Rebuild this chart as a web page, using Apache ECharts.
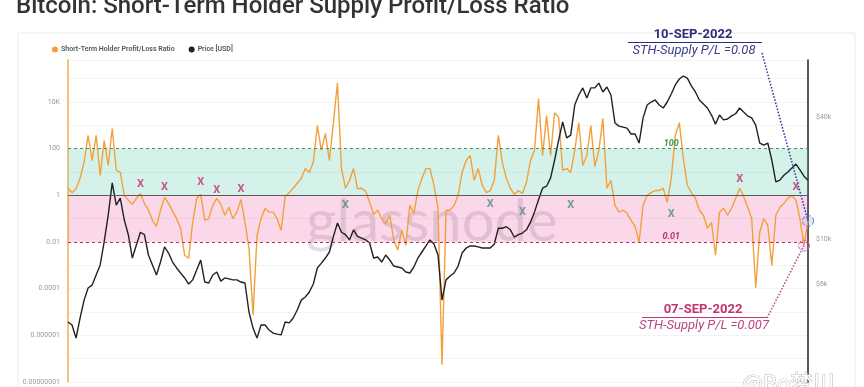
<!DOCTYPE html>
<html>
<head>
<meta charset="utf-8">
<script src="https://cdn.jsdelivr.net/npm/echarts@6/dist/echarts.min.js"></script>
<style>
html,body{margin:0;padding:0;background:#fff;}
#c{width:864px;height:387px;}
</style>
</head>
<body>
<div id="c"></div>
<script>
// STH supply profit/loss ratio, one reading every 10 days (Aug 2017 - 10 Sep 2022)
const ratio = [
  2.0,1.3,1.9,5.3,26,370,31,370,7.1,220,
  19,730,12,9.6,1.0,0.61,0.41,0.74,1.2,0.45,
  0.23,0.085,0.047,0.23,0.82,0.45,0.21,0.10,0.039,0.0027,
  0.002,0.07,0.74,1.1,0.085,0.10,0.37,0.74,0.41,0.14,
  0.31,0.10,0.19,0.67,0.07,0.0055,0.0000074,0.019,0.10,0.28,
  0.19,0.19,0.10,0.032,0.9,1.3,2.0,3.3,5.3,14,
  9.6,26,980,85,450,31,1300,67000,14,2.0,
  4.4,14,1.9,2.0,1.5,0.50,0.15,0.23,0.10,0.058,
  0.14,0.012,0.0045,0.032,0.0073,0.37,0.17,1.6,5.3,14,
  14,2.7,0.28,0.000000055,0.23,0.23,0.37,1.0,9.6,31,
  51,4.4,14,2.7,1.3,1.6,4.4,370,26,5.3,
  2.0,1.1,1.6,1.2,3.6,31,85,14000,51,2600,
  51,3500,2200,12,14,9.6,85,1300,19,51,
  980,17,85,1950,2.0,4.4,0.37,0.19,0.23,0.17,
  0.085,0.047,0.0098,0.37,1.0,1.3,1.6,1.6,2.0,0.50,
  5.3,370,1300,38,2.7,1.3,0.74,0.23,0.14,0.039,
  0.07,0.0027,0.19,0.28,0.14,0.28,0.74,2.0,0.9,0.31,
  0.10,0.00011,0.026,0.10,0.052,0.001,0.14,0.31,0.45,0.74,
  1.0,0.61,0.10,0.007,0.08
];
// BTC price [USD]
const price = [
  3900,3770,3250,4080,5000,5740,5930,6650,7450,9700,
  13100,18900,14700,15900,12400,10500,8060,9340,10800,10500,
  8340,7450,6650,7700,9140,8530,7700,7200,6800,6430,
  6000,6290,7030,7880,6140,6070,6650,6880,6200,6430,
  6360,6290,6290,6140,6070,4370,3640,3250,3770,3770,
  3560,3440,3400,3370,3900,3860,4080,4470,5000,5180,
  5480,6000,7200,7610,8060,8630,10300,12000,10800,10500,
  9900,11100,10300,10100,9900,9560,8060,8150,7700,8340,
  7880,7360,7280,7200,6880,6800,7280,8060,8630,9240,
  9900,9450,8340,5000,6290,6570,6800,7360,8530,9030,
  9240,9240,9140,9030,9030,9030,9450,11300,11300,11500,
  11100,10200,10500,10700,11100,12100,13600,15600,17800,18200,
  20000,24500,30700,37700,31500,32500,45700,51200,55500,49500,
  55500,55500,58600,53000,56100,51200,37300,36000,35600,35200,
  32900,32900,29700,39500,45700,47300,48400,45700,44200,47300,
  51800,57400,61400,63500,62000,56800,53000,48400,46300,44200,
  40800,36800,40800,38600,39000,40400,41400,44200,42200,40400,
  39500,36400,29700,29000,29700,24500,19100,19500,20600,21400,
  22400,23400,21900,20400,19500
];
// markers: [category index, ratio]
const sellMarks = [[18,2.95],[24,2.2],[33,3.6],[37,1.63],[43,1.8],[167,4.8],[181,2.2]];
const buyMarks = [[69,0.37],[105,0.41],[113,0.19],[125,0.37],[150,0.15]];
const leftTickLabels = {'4':'10K','2':'100','0':'1','-2':'0.01','-4':'0.0001','-6':'0.000001','-8':'0.00000001'};
const priceTicks = [6000, 10000, 40000];
const bandTop = 100, bandMid = 1, bandLow = 0.01;
const annHigh = {date:'10-SEP-2022', text:'STH-Supply P/L =0.08', value:0.08};
const annLow = {date:'07-SEP-2022', text:'STH-Supply P/L =0.007', value:0.007};

const cats = [];
for (let i = 0; i < ratio.length; i++) {
  const d = new Date(Date.UTC(2017,7,27) + i*10*86400000);
  cats.push(d.toISOString().slice(0,10));
}
const L = Math.log10;
const last = ratio.length - 1;

const chart = echarts.init(document.getElementById('c'));
const FONT = 'Roboto, "Noto Sans", sans-serif';
chart.setOption({
  animation: false,
  textStyle: {fontFamily: FONT},
  grid: {left: 68, right: 56, top: 60, bottom: 5, containLabel: false, outerBoundsMode: 'none'},
  legend: {
    left: 47, top: 41, icon: 'circle', itemWidth: 6, itemHeight: 6, itemGap: 14,
    data: ['Short-Term Holder Profit/Loss Ratio', 'Price [USD]'],
    textStyle: {fontSize: 7, color: '#555', fontWeight: 600, fontFamily: FONT, padding: [0,0,0,-2]}
  },
  xAxis: {type: 'category', data: cats, boundaryGap: false, show: false},
  yAxis: [
    {
      type: 'value', min: -8, max: 5.8, interval: 1, position: 'left',
      axisLine: {show: true, lineStyle: {color: '#eeb04c', width: 1.5}},
      axisTick: {show: false},
      splitLine: {show: true, lineStyle: {color: '#f3f3f3', width: 1}},
      axisLabel: {
        fontSize: 7, color: '#9a9a9a', margin: 8,
        formatter: v => leftTickLabels[String(Math.round(v*1000)/1000)] || ''
      }
    },
    {
      type: 'value', min: 3.2956, max: 4.8818, position: 'right',
      axisLine: {show: true, lineStyle: {color: '#222', width: 1.5}},
      axisTick: {show: false},
      splitLine: {show: false},
      axisLabel: {
        fontSize: 7, color: '#9a9a9a', margin: 8,
        customValues: priceTicks.map(L),
        formatter: v => '$' + Math.round(Math.pow(10, v)/1000) + 'k'
      }
    }
  ],
  series: [
    {
      name: 'Price [USD]', type: 'line', yAxisIndex: 1, z: 3,
      data: price.map(L), symbol: 'none',
      lineStyle: {color: '#222', width: 1.4}, itemStyle: {color: '#222'}
    },
    {
      name: 'Short-Term Holder Profit/Loss Ratio', type: 'line', yAxisIndex: 0, z: 2,
      data: ratio.map(L), symbol: 'none',
      lineStyle: {color: '#f3a03a', width: 1.4}, itemStyle: {color: '#f3a03a'},
      markLine: {
        silent: true, symbol: 'none', label: {show: false},
        data: [
          [{x: 762, y: 53}, {coord: [last, L(annHigh.value)]}],
          [{x: 767, y: 318}, {coord: [last-1, L(annLow.value)]}]
        ].map((d, i) => { d[0].lineStyle = {color: i ? '#b4579a' : '#3c45a6', type: 'dotted', width: 1.6}; return d; })
      },
      markPoint: {
        silent: true, symbol: 'circle', symbolSize: 11, label: {show: false},
        data: [
          {coord: [last, L(annHigh.value)], itemStyle: {color: 'rgba(120,150,230,0.18)', borderColor: '#5b74d6', borderType: 'dashed', borderWidth: 1}},
          {coord: [last-1, L(annLow.value)], itemStyle: {color: 'rgba(220,120,190,0.15)', borderColor: '#c76aa8', borderType: 'dashed', borderWidth: 1}}
        ]
      }
    },
    {
      name: 'bands', type: 'line', yAxisIndex: 0, z: 10, data: [], silent: true,
      markArea: {
        silent: true,
        data: [
          [{yAxis: L(bandMid), itemStyle: {color: 'rgba(87,203,171,0.25)'}}, {yAxis: L(bandTop)}],
          [{yAxis: L(bandLow), itemStyle: {color: 'rgba(239,79,155,0.22)'}}, {yAxis: L(bandMid)}]
        ]
      },
      markLine: {
        silent: true, symbol: 'none', label: {show: false},
        data: [
          {yAxis: L(bandTop), lineStyle: {color: '#3b9a5a', type: [3,3], width: 1}},
          {yAxis: L(bandMid), lineStyle: {color: '#5a5a5a', type: 'solid', width: 1}},
          {yAxis: L(bandLow), lineStyle: {color: '#b3306e', type: [3,3], width: 1}}
        ]
      },
      markPoint: {
        silent: true, symbol: 'circle', symbolSize: 0,
        label: {show: true, fontSize: 9, fontWeight: 'bold', fontStyle: 'italic', offset: [0, -5]},
        data: [
          {coord: [150, L(bandTop)], label: {formatter: '100', color: '#3a9a50'}},
          {coord: [150, L(bandLow)], label: {formatter: '0.01', color: '#b8307a'}}
        ]
      }
    },
    {
      name: 'sell', type: 'scatter', yAxisIndex: 0, z: 12, silent: true,
      data: sellMarks.map(m => [m[0], L(m[1])]), symbolSize: 1, itemStyle: {color: 'rgba(0,0,0,0)'},
      label: {show: true, position: 'inside', formatter: 'X', fontSize: 11, fontWeight: 'bold', color: '#c2306e'}
    },
    {
      name: 'buy', type: 'scatter', yAxisIndex: 0, z: 12, silent: true,
      data: buyMarks.map(m => [m[0], L(m[1])]), symbolSize: 1, itemStyle: {color: 'rgba(0,0,0,0)'},
      label: {show: true, position: 'inside', formatter: 'X', fontSize: 11, fontWeight: 'bold', color: '#4f8c7e'}
    }
  ],
  graphic: [
    {type: 'rect', z: -10, shape: {x: 18, y: 33, width: 837, height: 360}, style: {fill: '#fff', stroke: '#ebebeb', lineWidth: 1}},
    {type: 'text', z: 1, x: 16, y: 19, style: {text: 'Bitcoin: Short-Term Holder Supply Profit/Loss Ratio', fontSize: 24, fontWeight: 500, fontFamily: FONT, fill: '#333', align: 'left', verticalAlign: 'bottom'}},
    {type: 'text', z: 1, x: 432, y: 222, style: {text: 'glassnode', fontSize: 58, fontFamily: 'Lato, sans-serif', fill: 'rgba(120,110,135,0.22)', align: 'center', verticalAlign: 'middle'}},
    {type: 'text', z: 100, x: 693, y: 35, style: {text: annHigh.date, fontSize: 13, fontWeight: 'bold', fontFamily: FONT, fill: '#2a2c7c', align: 'center', verticalAlign: 'middle'}},
    {type: 'line', z: 100, shape: {x1: 628, y1: 42.5, x2: 762, y2: 42.5}, style: {stroke: '#2a2c7c', lineWidth: 1}},
    {type: 'text', z: 100, x: 694, y: 51, style: {text: annHigh.text, fontSize: 13, fontStyle: 'italic', fontFamily: FONT, fill: '#3b3e8c', align: 'center', verticalAlign: 'middle'}},
    {type: 'text', z: 100, x: 703, y: 310, style: {text: annLow.date, fontSize: 13, fontWeight: 'bold', fontFamily: FONT, fill: '#c2336f', align: 'center', verticalAlign: 'middle'}},
    {type: 'line', z: 100, shape: {x1: 642, y1: 317.5, x2: 767, y2: 317.5}, style: {stroke: '#c2336f', lineWidth: 1}},
    {type: 'text', z: 100, x: 704, y: 326, style: {text: annLow.text, fontSize: 13, fontStyle: 'italic', fontFamily: FONT, fill: '#b9487f', align: 'center', verticalAlign: 'middle'}},
    {type: 'text', z: 100, x: 742, y: 372, style: {text: '@Bo梦川', fontSize: 22, fontFamily: '"Noto Sans CJK SC", sans-serif', fill: '#fff', stroke: '#b8b8b8', lineWidth: 1, align: 'left', verticalAlign: 'top'}}
  ]
});
</script>
</body>
</html>
